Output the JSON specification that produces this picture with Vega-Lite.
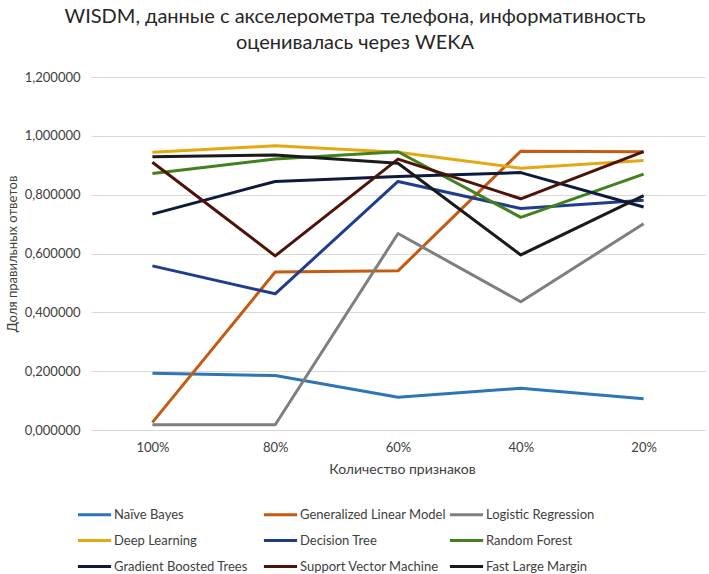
{
  "$schema": "https://vega.github.io/schema/vega-lite/v6.json",
  "width": 614,
  "height": 353,
  "autosize": {"type": "none"},
  "padding": {"left": 91, "top": 77, "right": 4, "bottom": 144},
  "background": "white",
  "title": {
    "text": ["WISDM, данные с акселерометра телефона, информативность", "оценивалась через WEKA"],
    "anchor": "middle",
    "dx": -43,
    "offset": 18,
    "font": "Lato",
    "fontSize": 20,
    "fontWeight": "normal",
    "color": "#262626",
    "lineHeight": 26
  },
  "config": {
    "view": {"stroke": null},
    "font": "Lato"
  },
  "data": {
    "values": [
      {"model": "Naïve Bayes", "features": "100%", "value": 0.193},
      {"model": "Naïve Bayes", "features": "80%", "value": 0.185},
      {"model": "Naïve Bayes", "features": "60%", "value": 0.111},
      {"model": "Naïve Bayes", "features": "40%", "value": 0.142},
      {"model": "Naïve Bayes", "features": "20%", "value": 0.106},
      {"model": "Generalized Linear Model", "features": "100%", "value": 0.026},
      {"model": "Generalized Linear Model", "features": "80%", "value": 0.537},
      {"model": "Generalized Linear Model", "features": "60%", "value": 0.541},
      {"model": "Generalized Linear Model", "features": "40%", "value": 0.948},
      {"model": "Generalized Linear Model", "features": "20%", "value": 0.946},
      {"model": "Logistic Regression", "features": "100%", "value": 0.018},
      {"model": "Logistic Regression", "features": "80%", "value": 0.018},
      {"model": "Logistic Regression", "features": "60%", "value": 0.668},
      {"model": "Logistic Regression", "features": "40%", "value": 0.436},
      {"model": "Logistic Regression", "features": "20%", "value": 0.701},
      {"model": "Deep Learning", "features": "100%", "value": 0.944},
      {"model": "Deep Learning", "features": "80%", "value": 0.966},
      {"model": "Deep Learning", "features": "60%", "value": 0.944},
      {"model": "Deep Learning", "features": "40%", "value": 0.890},
      {"model": "Deep Learning", "features": "20%", "value": 0.916},
      {"model": "Decision Tree", "features": "100%", "value": 0.558},
      {"model": "Decision Tree", "features": "80%", "value": 0.463},
      {"model": "Decision Tree", "features": "60%", "value": 0.845},
      {"model": "Decision Tree", "features": "40%", "value": 0.753},
      {"model": "Decision Tree", "features": "20%", "value": 0.781},
      {"model": "Random Forest", "features": "100%", "value": 0.872},
      {"model": "Random Forest", "features": "80%", "value": 0.921},
      {"model": "Random Forest", "features": "60%", "value": 0.946},
      {"model": "Random Forest", "features": "40%", "value": 0.723},
      {"model": "Random Forest", "features": "20%", "value": 0.870},
      {"model": "Gradient Boosted Trees", "features": "100%", "value": 0.734},
      {"model": "Gradient Boosted Trees", "features": "80%", "value": 0.845},
      {"model": "Gradient Boosted Trees", "features": "60%", "value": 0.862},
      {"model": "Gradient Boosted Trees", "features": "40%", "value": 0.875},
      {"model": "Gradient Boosted Trees", "features": "20%", "value": 0.758},
      {"model": "Support Vector Machine", "features": "100%", "value": 0.910},
      {"model": "Support Vector Machine", "features": "80%", "value": 0.592},
      {"model": "Support Vector Machine", "features": "60%", "value": 0.921},
      {"model": "Support Vector Machine", "features": "40%", "value": 0.786},
      {"model": "Support Vector Machine", "features": "20%", "value": 0.946},
      {"model": "Fast Large Margin", "features": "100%", "value": 0.929},
      {"model": "Fast Large Margin", "features": "80%", "value": 0.935},
      {"model": "Fast Large Margin", "features": "60%", "value": 0.907},
      {"model": "Fast Large Margin", "features": "40%", "value": 0.595},
      {"model": "Fast Large Margin", "features": "20%", "value": 0.797}
    ]
  },
  "mark": {"type": "line", "strokeWidth": 3, "strokeJoin": "round"},
  "encoding": {
    "x": {
      "field": "features",
      "type": "ordinal",
      "sort": ["100%", "80%", "60%", "40%", "20%"],
      "scale": {"type": "point", "padding": 0.5},
      "axis": {
        "title": "Количество признаков",
        "titleFont": "Lato",
        "titleFontSize": 14,
        "titleFontWeight": "normal",
        "titleColor": "#404040",
        "titlePadding": 8,
        "titleX": 311,
        "labelAngle": 0,
        "labelFontSize": 13,
        "labelColor": "#404040",
        "labelPadding": 11,
        "domain": false,
        "ticks": false,
        "grid": false
      }
    },
    "y": {
      "field": "value",
      "type": "quantitative",
      "scale": {"domain": [0, 1.2], "nice": false},
      "axis": {
        "title": "Доля правильных ответов",
        "titleFont": "Lato",
        "titleFontSize": 13,
        "titleFontWeight": "normal",
        "titleColor": "#404040",
        "titlePadding": 5,
        "values": [0, 0.2, 0.4, 0.6, 0.8, 1.0, 1.2],
        "labelExpr": "replace(format(datum.value, '.6f'), '.', ',')",
        "labelFontSize": 13,
        "labelColor": "#404040",
        "labelPadding": 11,
        "domain": false,
        "ticks": false,
        "grid": true,
        "gridColor": "#d9d9d9",
        "gridWidth": 1
      }
    },
    "color": {
      "field": "model",
      "type": "nominal",
      "sort": ["Naïve Bayes", "Generalized Linear Model", "Logistic Regression", "Deep Learning", "Decision Tree", "Random Forest", "Gradient Boosted Trees", "Support Vector Machine", "Fast Large Margin"],
      "scale": {
        "domain": ["Naïve Bayes", "Generalized Linear Model", "Logistic Regression", "Deep Learning", "Decision Tree", "Random Forest", "Gradient Boosted Trees", "Support Vector Machine", "Fast Large Margin"],
        "range": ["#2E75B6", "#C55A11", "#7F7F7F", "#E3A812", "#1F3D8C", "#43801E", "#0E1A3D", "#4D1208", "#1A1A1A"]
      },
      "legend": {
        "title": null,
        "orient": "none",
        "legendX": -15,
        "legendY": 419,
        "direction": "horizontal",
        "columns": 3,
        "gridAlign": "all",
        "columnPadding": -3,
        "rowPadding": -7,
        "symbolType": "stroke",
        "symbolSize": 1100,
        "symbolStrokeWidth": 3,
        "labelFontSize": 13,
        "labelFont": "Lato",
        "labelColor": "#404040",
        "labelOffset": 1,
        "labelLimit": 300
      }
    }
  }
}
